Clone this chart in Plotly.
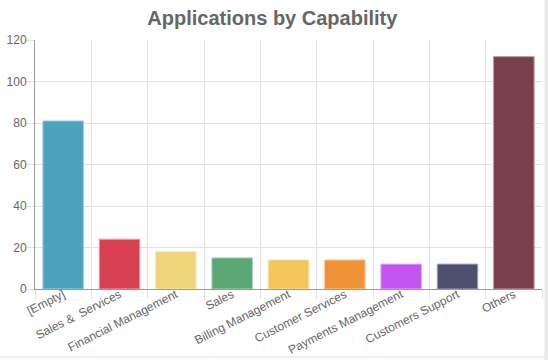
import plotly.graph_objects as go

categories = ["[Empty]", "Sales &\u00a0 Services", "Financial Management", "Sales",
              "Billing Management", "Customer Services", "Payments Management",
              "Customers Support", "Others"]
values = [81, 24, 18, 15, 14, 14, 12, 12, 112]
colors = ["#4BA3BD", "#D94153", "#EED577", "#5BA874", "#F3C55A",
          "#F09336", "#C456F0", "#4F4F70", "#784048"]
border_colors = ["#A5D1DE", "#ECA0A9", "#F6EABB", "#ADD3B9", "#F9E2AC",
                 "#F7C99A", "#E1AAF7", "#A7A7B7", "#BBA0A3"]
y_ticks = [0, 20, 40, 60, 80, 100, 120]

fig = go.Figure(go.Bar(
    x=categories, y=values,
    marker=dict(color=colors, line=dict(color=border_colors, width=1)),
    width=0.72,
))

fig.update_layout(
    width=548, height=360,
    margin=dict(l=35, r=6, t=40, b=71),
    paper_bgcolor="white", plot_bgcolor="white",
    showlegend=False,
    title=dict(text="<b>Applications by Capability</b>", x=0.497, xanchor="center",
               y=0.951, yanchor="middle",
               font=dict(family="Liberation Sans, Arial, sans-serif", size=20, color="#666666")),
    font=dict(family="Liberation Sans, Arial, sans-serif", size=12, color="#666666"),
    bargap=0.28,
)
fig.update_xaxes(
    type="category", tickson="boundaries", showgrid=True, gridcolor="#E2E2E2", gridwidth=1,
    ticks="outside", ticklen=9, tickcolor="#E2E2E2", ticklabelstandoff=-7,
    tickangle=-27, showline=True, linecolor="#9A9A9A", linewidth=1, automargin=False,
    tickfont=dict(size=12, color="#666666"), mirror=False, range=[-0.5, 8.5],
)
fig.update_yaxes(
    range=[0, 120], tickvals=y_ticks, showgrid=True, gridcolor="#E2E2E2", gridwidth=1,
    ticks="outside", ticklen=8, tickcolor="#E2E2E2", automargin=False, ticklabelstandoff=-3,
    showline=True, linecolor="#9A9A9A", linewidth=1, zeroline=False,
    tickfont=dict(size=12, color="#666666"),
)
# light page border at right and bottom
fig.add_shape(type="line", xref="paper", yref="paper", x0=1.008, x1=1.008, y0=-0.5, y1=1.3,
              line=dict(color="#E6E6E6", width=3))
fig.add_shape(type="line", xref="paper", yref="paper", x0=-0.2, x1=1.02, y0=-0.273, y1=-0.273,
              line=dict(color="#EEEEEE", width=2))

fig.write_html(
    "out.html",
    config={"displayModeBar": False},
    post_script="document.body.style.margin='0';document.body.style.overflow='hidden';",
)
